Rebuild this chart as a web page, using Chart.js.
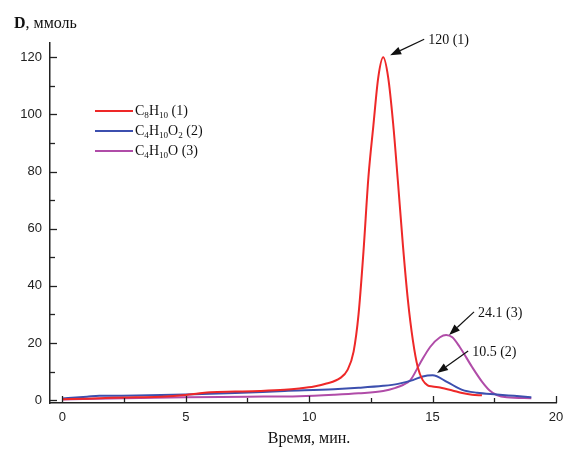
<!DOCTYPE html>
<html>
<head>
<meta charset="utf-8">
<script src="https://cdn.jsdelivr.net/npm/chart.js@4/dist/chart.umd.min.js"></script>
<style>
  body { margin: 0; background: #fff; }
</style>
</head>
<body>
<canvas id="chart" width="566" height="453"></canvas>
<script>
// --- data ---
const redX = [0, 1, 2, 3, 4, 5, 5.5, 6, 7, 8, 9, 9.6, 10.2, 10.7, 11.25, 11.55, 11.8, 12, 12.2, 12.4, 12.6, 12.8, 13, 13.2, 13.4, 13.6, 13.8, 14, 14.2, 14.4, 14.6, 14.8, 15, 15.3, 15.8, 16.2, 16.6, 17];
const redY = [0.3, 0.5, 0.8, 1, 1.2, 1.8, 2.3, 2.8, 3, 3.2, 3.6, 4.1, 4.8, 5.8, 7.7, 10.5, 17, 30, 52, 78, 96, 113, 120, 113, 97, 76, 54, 35, 21, 11.5, 7, 5.2, 4.8, 4.4, 3.4, 2.5, 1.9, 1.7];

const blueX = [0, 1, 1.5, 2, 3, 5, 7, 9, 11, 12, 13, 13.6, 14.2, 14.6, 15, 15.6, 16.2, 16.8, 17.6, 18.3, 19];
const blueY = [0.6, 1.2, 1.5, 1.5, 1.6, 2, 2.5, 3.2, 3.8, 4.3, 5, 5.7, 7, 8.3, 8.7, 6.3, 3.6, 2.6, 2, 1.5, 1];

const magX = [0, 2.5, 5, 7.5, 9.6, 11, 12, 13, 13.5, 13.8, 14.1, 14.5, 14.9, 15.3, 15.55, 15.8, 16.1, 16.6, 17, 17.3, 17.6, 18, 19];
const magY = [0.2, 0.7, 1, 1.2, 1.4, 1.9, 2.4, 3.2, 4.3, 5.3, 7, 13, 18.6, 22, 22.8, 22, 18.6, 11.6, 6.5, 3.5, 1.8, 1, 0.7];

const seriesLabels = ["C_8H_10 (1)", "C_4H_10O_2 (2)", "C_4H_10O (3)"];
const seriesColors = ["#ee2828", "#3c4fae", "#b04ca8"];

const xTicks = [0, 5, 10, 15, 20];
const yTicks = [0, 20, 40, 60, 80, 100, 120];

// peak notes: text, arrow tip (x, y), arrow tail (x, y)
const noteTexts = ["120 (1)", "24.1 (3)", "10.5 (2)"];
const noteTips = [[13.28, 120.7], [15.67, 22.8], [15.18, 9.5]];
const noteTails = [[14.66, 126.3], [16.68, 30.9], [16.44, 17.2]];

const toPoints = (xs, ys) => xs.map((x, i) => ({ x: x, y: ys[i] }));

const serif = "'Liberation Serif', 'Times New Roman', serif";
const sans = "'Liberation Sans', Arial, sans-serif";

// draw a label where "_digits" becomes a subscript
function drawSubText(ctx, text, x, y, size) {
  const parts = text.split(/(_\d+)/).filter(p => p.length);
  parts.forEach(p => {
    if (p[0] === "_") {
      ctx.font = (size * 0.65) + "px " + serif;
      ctx.fillText(p.slice(1), x, y + size * 0.3);
      x += ctx.measureText(p.slice(1)).width;
    } else {
      ctx.font = size + "px " + serif;
      ctx.fillText(p, x, y);
      x += ctx.measureText(p).width;
    }
  });
}

const decorations = {
  id: "decorations",
  afterDraw(chart) {
    const ctx = chart.ctx;
    const xs = chart.scales.x, ys = chart.scales.y;
    const area = chart.chartArea;
    ctx.save();
    ctx.strokeStyle = "#222";
    ctx.lineWidth = 1.3;

    // inward ticks, major and minor
    for (let v = 0; v <= 120; v += 10) {
      const py = Math.round(ys.getPixelForValue(v)) + 0.5;
      const len = v % 20 === 0 ? 7 : 5;
      ctx.beginPath();
      ctx.moveTo(area.left, py);
      ctx.lineTo(area.left + len, py);
      ctx.stroke();
    }
    for (let v = 0; v <= 20; v += 2.5) {
      const px = Math.round(xs.getPixelForValue(v)) + 0.5;
      const len = v % 5 === 0 ? 7 : 5;
      ctx.beginPath();
      ctx.moveTo(px, area.bottom);
      ctx.lineTo(px, area.bottom - len);
      ctx.stroke();
    }

    // axis titles
    ctx.fillStyle = "#111";
    ctx.textBaseline = "alphabetic";
    ctx.textAlign = "left";
    ctx.font = "bold 16px " + serif;
    ctx.fillText("D", 14, 28);
    const dw = ctx.measureText("D").width;
    ctx.font = "16px " + serif;
    ctx.fillText(", ммоль", 14 + dw, 28);
    ctx.textAlign = "center";
    ctx.font = "16px " + serif;
    ctx.fillText("Время, мин.", 309, 443);

    // legend
    ctx.textAlign = "left";
    ctx.textBaseline = "middle";
    seriesLabels.forEach((lab, i) => {
      const ly = 111 + i * 20;
      ctx.strokeStyle = seriesColors[i];
      ctx.lineWidth = 2;
      ctx.beginPath();
      ctx.moveTo(95, ly);
      ctx.lineTo(133, ly);
      ctx.stroke();
      ctx.fillStyle = "#111";
      drawSubText(ctx, lab, 135, ly, 14);
    });

    // peak notes with arrows
    ctx.strokeStyle = "#111";
    ctx.fillStyle = "#111";
    ctx.lineWidth = 1.2;
    noteTexts.forEach((t, i) => {
      const tx = xs.getPixelForValue(noteTips[i][0]);
      const ty = ys.getPixelForValue(noteTips[i][1]);
      const sx = xs.getPixelForValue(noteTails[i][0]);
      const sy = ys.getPixelForValue(noteTails[i][1]);
      const ang = Math.atan2(ty - sy, tx - sx);
      const hl = 11, hw = 4;
      const bx = tx - hl * Math.cos(ang), by = ty - hl * Math.sin(ang);
      ctx.beginPath();
      ctx.moveTo(sx, sy);
      ctx.lineTo(bx, by);
      ctx.stroke();
      ctx.beginPath();
      ctx.moveTo(tx, ty);
      ctx.lineTo(bx + hw * Math.sin(ang), by - hw * Math.cos(ang));
      ctx.lineTo(bx - hw * Math.sin(ang), by + hw * Math.cos(ang));
      ctx.closePath();
      ctx.fill();
      ctx.font = "14px " + serif;
      ctx.textBaseline = "middle";
      ctx.fillText(t, sx + 4, sy + 1);
    });
    ctx.restore();
  }
};

new Chart(document.getElementById("chart"), {
  type: "line",
  data: {
    datasets: [
      { label: seriesLabels[0], data: toPoints(redX, redY), borderColor: seriesColors[0] },
      { label: seriesLabels[1], data: toPoints(blueX, blueY), borderColor: seriesColors[1] },
      { label: seriesLabels[2], data: toPoints(magX, magY), borderColor: seriesColors[2] }
    ]
  },
  options: {
    responsive: false,
    animation: false,
    layout: { padding: { left: 0, right: 10, top: 43, bottom: 0 } },
    elements: {
      point: { radius: 0 },
      line: { borderWidth: 2, cubicInterpolationMode: "monotone", fill: false }
    },
    plugins: {
      legend: { display: false },
      tooltip: { enabled: false }
    },
    scales: {
      x: {
        type: "linear",
        min: -0.5,
        max: 20,
        afterBuildTicks: s => { s.ticks = xTicks.map(v => ({ value: v })); },
        afterFit: s => { s.height = 50; s.paddingLeft = 0; s.paddingRight = 0; },
        grid: { display: false, drawTicks: false },
        border: { display: true, color: "#222", width: 1.5 },
        ticks: { color: "#222", padding: 7, maxRotation: 0, font: { family: sans, size: 13 } }
      },
      y: {
        type: "linear",
        min: -1,
        max: 125,
        afterBuildTicks: s => { s.ticks = yTicks.map(v => ({ value: v })); },
        afterFit: s => { s.width = 50; s.paddingTop = 0; s.paddingBottom = 0; },
        grid: { display: false, drawTicks: false },
        border: { display: true, color: "#222", width: 1.5 },
        ticks: { color: "#222", padding: 8, font: { family: sans, size: 13 } }
      }
    }
  },
  plugins: [decorations]
});
</script>
</body>
</html>
